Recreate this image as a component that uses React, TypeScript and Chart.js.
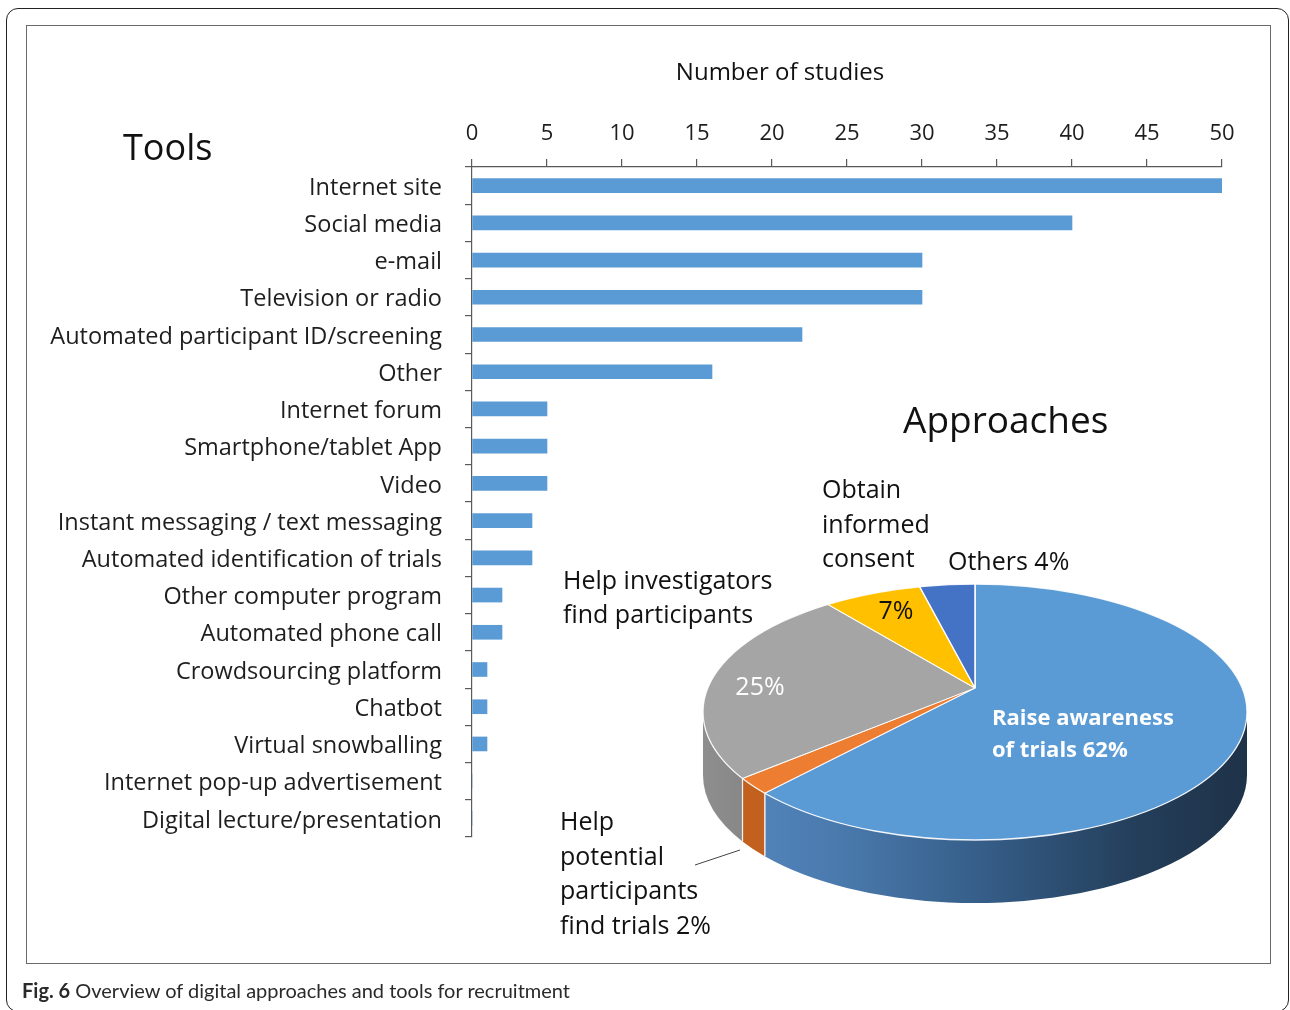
import React, { useEffect, useRef } from "react";
import { Chart, registerables } from "chart.js";

Chart.register(...registerables);

// ---------------- data ----------------
const toolCategories = [
  "Internet site",
  "Social media",
  "e-mail",
  "Television or radio",
  "Automated participant ID/screening",
  "Other",
  "Internet forum",
  "Smartphone/tablet App",
  "Video",
  "Instant messaging / text messaging",
  "Automated identification of trials",
  "Other computer program",
  "Automated phone call",
  "Crowdsourcing platform",
  "Chatbot",
  "Virtual snowballing",
  "Internet pop-up advertisement",
  "Digital lecture/presentation",
];
const toolStudies = [50, 40, 30, 30, 22, 16, 5, 5, 5, 4, 4, 2, 2, 1, 1, 1, 0, 0];
const xAxisMin = 0;
const xAxisMax = 50;
const xAxisStep = 5;

const approachLabels = [
  "Raise awareness of trials",
  "Help potential participants find trials",
  "Help investigators find participants",
  "Obtain informed consent",
  "Others",
];
const approachShares = [62, 2, 25, 7, 4];

// ---------------- styles ----------------
const FONT = "'Open Sans', 'Noto Sans', sans-serif";
const TEXT = "#1e1e1e";
const AXIS = "#5a5a5a";
const BAR_COLOR = "#5B9BD5";
const approachColors = ["#5B9BD5", "#ED7D31", "#A5A5A5", "#FFC000", "#4472C4"];
// 3-D look of the pie (perspective approximation)
const TILT = 0.47; // vertical squash of the pie plane
const RIM_RX = 272; // visible top-face ellipse radii
const RIM_RY = 128;
const APEX_SHIFT = 24; // rim ellipse centre lies below the slice apex
const DEPTH = 63; // wall height

const barText = {
  id: "barText",
  afterDraw(chart: any) {
    const ctx = chart.ctx;
    ctx.save();
    ctx.fillStyle = "#111";
    ctx.textBaseline = "middle";
    ctx.textAlign = "left";
    ctx.font = `36px ${FONT}`;
    ctx.fillText("Tools", 123, 150);
    ctx.textAlign = "center";
    ctx.font = `24px ${FONT}`;
    ctx.fillText("Number of studies", 780, 73);
    ctx.restore();
  },
};

function sideFill(ctx: CanvasRenderingContext2D, i: number, cx: number, r: number) {
  const g = ctx.createLinearGradient(cx - r, 0, cx + r, 0);
  if (i === 0) {
    g.addColorStop(0, "#5689c2");
    g.addColorStop(0.25, "#4a7aad");
    g.addColorStop(0.5, "#365f8a");
    g.addColorStop(0.8, "#243e5a");
    g.addColorStop(1, "#1e3248");
  } else if (i === 1) {
    g.addColorStop(0, "#c4621f");
    g.addColorStop(1, "#b0561a");
  } else if (i === 2) {
    g.addColorStop(0, "#8e8e8e");
    g.addColorStop(0.2, "#7c7c7c");
    g.addColorStop(1, "#6e6e6e");
  } else {
    g.addColorStop(0, "#888");
    g.addColorStop(1, "#666");
  }
  return g;
}

// parametric angle on the rim ellipse hit by a slice boundary leaving the apex
function rimAngle(a: number, ax: number, ay: number) {
  const s = APEX_SHIFT;
  const dx = Math.cos(a);
  const dy = TILT * Math.sin(a);
  const A = (dx * dx) / (RIM_RX * RIM_RX) + (dy * dy) / (RIM_RY * RIM_RY);
  const B = (-2 * s * dy) / (RIM_RY * RIM_RY);
  const C = (s * s) / (RIM_RY * RIM_RY) - 1;
  const t = (-B + Math.sqrt(B * B - 4 * A * C)) / (2 * A);
  const px = dx * t;
  const py = dy * t - s;
  return Math.atan2(py / RIM_RY, px / RIM_RX);
}

const pie3d = {
  id: "pie3d",
  beforeDatasetsDraw(chart: any) {
    const ctx = chart.ctx as CanvasRenderingContext2D;
    const meta = chart.getDatasetMeta(0);
    const { x: ax, y: ay } = meta.data[0].getProps(["x", "y"], true);
    const ex = ax;
    const ey = ay + APEX_SHIFT;
    ctx.save();
    // walls
    meta.data.forEach((arc: any, i: number) => {
      const { startAngle, endAngle } = arc.getProps(["startAngle", "endAngle"], true);
      let t1 = rimAngle(startAngle, ax, ay);
      let t2 = rimAngle(endAngle, ax, ay);
      while (t2 <= t1) t2 += Math.PI * 2;
      [0, Math.PI * 2, -Math.PI * 2].forEach((off) => {
        const b1 = Math.max(t1, off);
        const b2 = Math.min(t2, off + Math.PI);
        if (b2 <= b1) return;
        ctx.beginPath();
        ctx.ellipse(ex, ey, RIM_RX, RIM_RY, 0, b1, b2);
        ctx.ellipse(ex, ey + DEPTH, RIM_RX, RIM_RY, 0, b2, b1, true);
        ctx.closePath();
        ctx.fillStyle = sideFill(ctx, i, ex, RIM_RX);
        ctx.fill();
        ctx.strokeStyle = "rgba(255,255,255,0.85)";
        ctx.lineWidth = 1.2;
        [b1, b2].forEach((b) => {
          if (Math.abs(b - off) < 1e-6 || Math.abs(b - off - Math.PI) < 1e-6) return;
          const px = ex + RIM_RX * Math.cos(b);
          const py = ey + RIM_RY * Math.sin(b);
          ctx.beginPath();
          ctx.moveTo(px, py);
          ctx.lineTo(px, py + DEPTH);
          ctx.stroke();
        });
      });
    });
    // top face: slices from the apex, trimmed to the rim ellipse
    ctx.beginPath();
    ctx.ellipse(ex, ey, RIM_RX, RIM_RY, 0, 0, Math.PI * 2);
    ctx.clip();
    ctx.translate(0, ay);
    ctx.scale(1, TILT);
    ctx.translate(0, -ay);
  },
  afterDatasetsDraw(chart: any) {
    const ctx = chart.ctx as CanvasRenderingContext2D;
    ctx.restore();
    const { x: ax, y: ay } = chart.getDatasetMeta(0).data[0].getProps(["x", "y"], true);
    ctx.save();
    ctx.strokeStyle = "rgba(255,255,255,0.9)";
    ctx.lineWidth = 1.3;
    ctx.beginPath();
    ctx.ellipse(ax, ay + APEX_SHIFT, RIM_RX, RIM_RY, 0, 0, Math.PI * 2);
    ctx.stroke();
    ctx.restore();
  },
};

const pieText = {
  id: "pieText",
  afterDraw(chart: any) {
    const ctx = chart.ctx as CanvasRenderingContext2D;
    const { x: ax, y: ay } = chart.getDatasetMeta(0).data[0].getProps(["x", "y"], true);
    const cx = ax;
    const cy = ay + APEX_SHIFT;
    const lines = (arr: string[], x: number, y: number, step: number) =>
      arr.forEach((s, k) => ctx.fillText(s, cx + x, cy + y + k * step));
    ctx.save();
    ctx.textBaseline = "middle";
    ctx.textAlign = "left";
    ctx.fillStyle = "#111";
    ctx.font = `37px ${FONT}`;
    ctx.fillText("Approaches", cx - 72, cy - 290);
    ctx.font = `25px ${FONT}`;
    lines(["Obtain", "informed", "consent"], -153, -221, 34.5);
    ctx.fillText("Others 4%", cx - 27, cy - 149);
    lines(["Help investigators", "find participants"], -412, -130, 34);
    lines(["Help", "potential", "participants", "find trials 2%"], -415, 111, 34.5);
    ctx.textAlign = "center";
    ctx.fillText("7%", cx - 79, cy - 100);
    ctx.fillStyle = "#fff";
    ctx.fillText("25%", cx - 215, cy - 24);
    ctx.textAlign = "left";
    ctx.font = `bold 22px ${FONT}`;
    lines(["Raise awareness", "of trials 62%"], 17, 7, 32);
    // leader line
    ctx.strokeStyle = "#444";
    ctx.lineWidth = 1;
    ctx.beginPath();
    ctx.moveTo(cx - 280, cy + 153);
    ctx.lineTo(cx - 235, cy + 138);
    ctx.stroke();
    ctx.restore();
  },
};

export default function App() {
  const barRef = useRef<HTMLCanvasElement>(null);
  const pieRef = useRef<HTMLCanvasElement>(null);

  useEffect(() => {
    const bar = new Chart(barRef.current as HTMLCanvasElement, {
      type: "bar",
      data: {
        labels: toolCategories,
        datasets: [
          {
            data: toolStudies,
            backgroundColor: BAR_COLOR,
            barThickness: 14,
          },
        ],
      },
      options: {
        indexAxis: "y",
        responsive: false,
        animation: false,
        events: [],
        layout: { padding: { left: 0, top: 0, right: 68, bottom: 173 } },
        plugins: { legend: { display: false }, tooltip: { enabled: false } },
        scales: {
          x: {
            position: "top",
            min: xAxisMin,
            max: xAxisMax,
            ticks: { stepSize: xAxisStep, font: { family: FONT, size: 22 }, color: TEXT, padding: 12 },
            grid: { drawOnChartArea: false, tickLength: 8, color: AXIS, lineWidth: 1.2 },
            border: { color: AXIS, width: 1.2 },
            afterFit: (s: any) => {
              s.height = 167;
            },
          },
          y: {
            ticks: { font: { family: FONT, size: 23.5 }, color: TEXT, padding: 23, labelOffset: 2.5 },
            grid: { drawOnChartArea: false, tickLength: 7, offset: true, color: AXIS, lineWidth: 1.2 },
            border: { color: AXIS, width: 1.2 },
            afterFit: (s: any) => {
              s.width = 472;
            },
          },
        },
      } as any,
      plugins: [barText],
    });

    const pie = new Chart(pieRef.current as HTMLCanvasElement, {
      type: "pie",
      data: {
        labels: approachLabels,
        datasets: [
          {
            data: approachShares,
            backgroundColor: approachColors,
            borderColor: "#ffffff",
            borderWidth: 1.5,
            clip: false,
          } as any,
        ],
      },
      options: {
        responsive: false,
        animation: false,
        events: [],
        layout: { padding: { left: 645, right: 95, top: 358, bottom: 82 } },
        plugins: { legend: { display: false }, tooltip: { enabled: false } },
      } as any,
      plugins: [pie3d, pieText],
    });

    return () => {
      bar.destroy();
      pie.destroy();
    };
  }, []);

  return (
    <div
      style={{
        position: "absolute",
        left: 0,
        top: 0,
        width: 1290,
        height: 1010,
        overflow: "hidden",
        background: "#fff",
      }}
    >
      <div
        style={{
          position: "absolute",
          left: 6,
          top: 8,
          width: 1283,
          height: 1004,
          border: "1.5px solid #222",
          borderRadius: 12,
          boxSizing: "border-box",
        }}
      />
      <div
        style={{
          position: "absolute",
          left: 26,
          top: 25,
          width: 1245,
          height: 939,
          border: "1.5px solid #6a6a6a",
          boxSizing: "border-box",
        }}
      />
      <canvas
        ref={barRef}
        width={1290}
        height={1010}
        style={{ position: "absolute", left: 0, top: 0, width: 1290, height: 1010 }}
      />
      <canvas
        ref={pieRef}
        width={1400}
        height={1100}
        style={{ position: "absolute", left: 0, top: 0, width: 1400, height: 1100 }}
      />
      <div
        style={{
          position: "absolute",
          left: 22,
          top: 978,
          lineHeight: "24px",
          fontFamily: "Lato, 'Open Sans', sans-serif",
          fontSize: 20,
          color: "#2a2a2a",
          whiteSpace: "nowrap",
        }}
      >
        <b>Fig. 6</b> Overview of digital approaches and tools for recruitment
      </div>
    </div>
  );
}
